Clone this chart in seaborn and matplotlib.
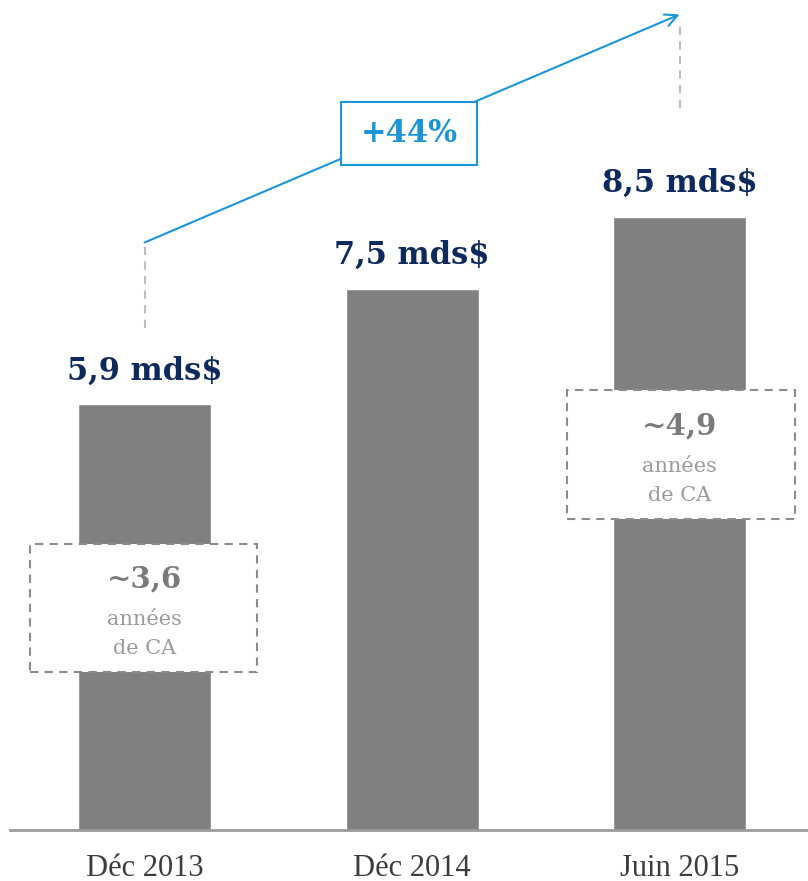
import matplotlib
matplotlib.use("Agg")
import matplotlib.pyplot as plt
from matplotlib.patches import Rectangle
import seaborn as sns
import pandas as pd

# chart data
periods = ["Déc 2013", "Déc 2014", "Juin 2015"]
values = [5.9, 7.5, 8.5]
value_labels = ["5,9 mds$", "7,5 mds$", "8,5 mds$"]
growth_label = "+44%"
years_ca = {0: "~3,6", 2: "~4,9"}

NAVY = "#0e2a5c"
BLUE = "#1a95d6"
BAR_GREY = "#808080"
TEXT_GREY = "#7a7a7a"

sns.set_style("white")
plt.rcParams["font.family"] = ["DejaVu Serif", "DejaVu Sans"]

fig = plt.figure(figsize=(8.08, 8.81), dpi=100)
# axes: left edge at px 10, bottom at px 830 (from top), top at px 0
ax = fig.add_axes([10 / 808, 51 / 881, 798 / 808, 830 / 881])

df = pd.DataFrame({"period": periods, "value": values})
sns.barplot(data=df, x="period", y="value", color=BAR_GREY, saturation=1,
            width=0.497, ax=ax)

ax.set_xlim(-0.503, 2.48)
ax.set_ylim(0, 11.5)

# value labels above bars
for i, (v, lab) in enumerate(zip(values, value_labels)):
    ax.text(i, v + 0.46, lab, ha="center", va="center", fontsize=22,
            fontweight="bold", color=NAVY)

# dashed boxes with "years of revenue"
boxes = {0: (-0.428, 2.19, 0.849, 1.77), 2: (1.579, 4.31, 0.853, 1.78)}
for i, (x0, y0, w, h) in boxes.items():
    ax.add_patch(Rectangle((x0, y0), w, h, facecolor="white", edgecolor="#8c8c8c",
                           linestyle=(0, (4, 3)), linewidth=1.5, zorder=5))
    yc = y0 + h / 2
    ax.text(i, yc + 0.40, years_ca[i], ha="center", va="center", fontsize=21,
            fontweight="bold", color=TEXT_GREY, zorder=6)
    ax.text(i, yc - 0.16, "années", ha="center", va="center", fontsize=15,
            color="#9a9a9a", zorder=6)
    ax.text(i, yc - 0.56, "de CA", ha="center", va="center", fontsize=15,
            color="#9a9a9a", zorder=6)

# grey dashed guide lines
ax.plot([0, 0], [6.95, 8.14], color="#bdbdbd", linestyle=(0, (4, 3)), linewidth=1.5)
ax.plot([2, 2], [10.0, 11.2], color="#bdbdbd", linestyle=(0, (4, 3)), linewidth=1.5)

# growth arrow
ax.annotate("", xy=(2.0, 11.3), xytext=(0, 8.14),
            arrowprops=dict(arrowstyle="->", color=BLUE, lw=1.5,
                            mutation_scale=22, shrinkA=0, shrinkB=0))
ax.add_patch(Rectangle((0.736, 9.21), 0.508, 0.87, facecolor="white",
                       edgecolor=BLUE, linewidth=1.5, zorder=5))
ax.text(0.99, 9.65, growth_label, ha="center", va="center", fontsize=22,
        fontweight="bold", color=BLUE, zorder=6)

# axes styling
for s in ["top", "right", "left"]:
    ax.spines[s].set_visible(False)
ax.spines["bottom"].set_color("#9a9a9a")
ax.spines["bottom"].set_linewidth(2)
ax.set_yticks([])
ax.set_xlabel("")
ax.set_ylabel("")
ax.tick_params(axis="x", length=0, pad=17, labelsize=22, labelcolor="#3c3c3c")
for t in ax.get_xticklabels():
    t.set_family("Liberation Serif")

fig.savefig("out.png", dpi=100)
